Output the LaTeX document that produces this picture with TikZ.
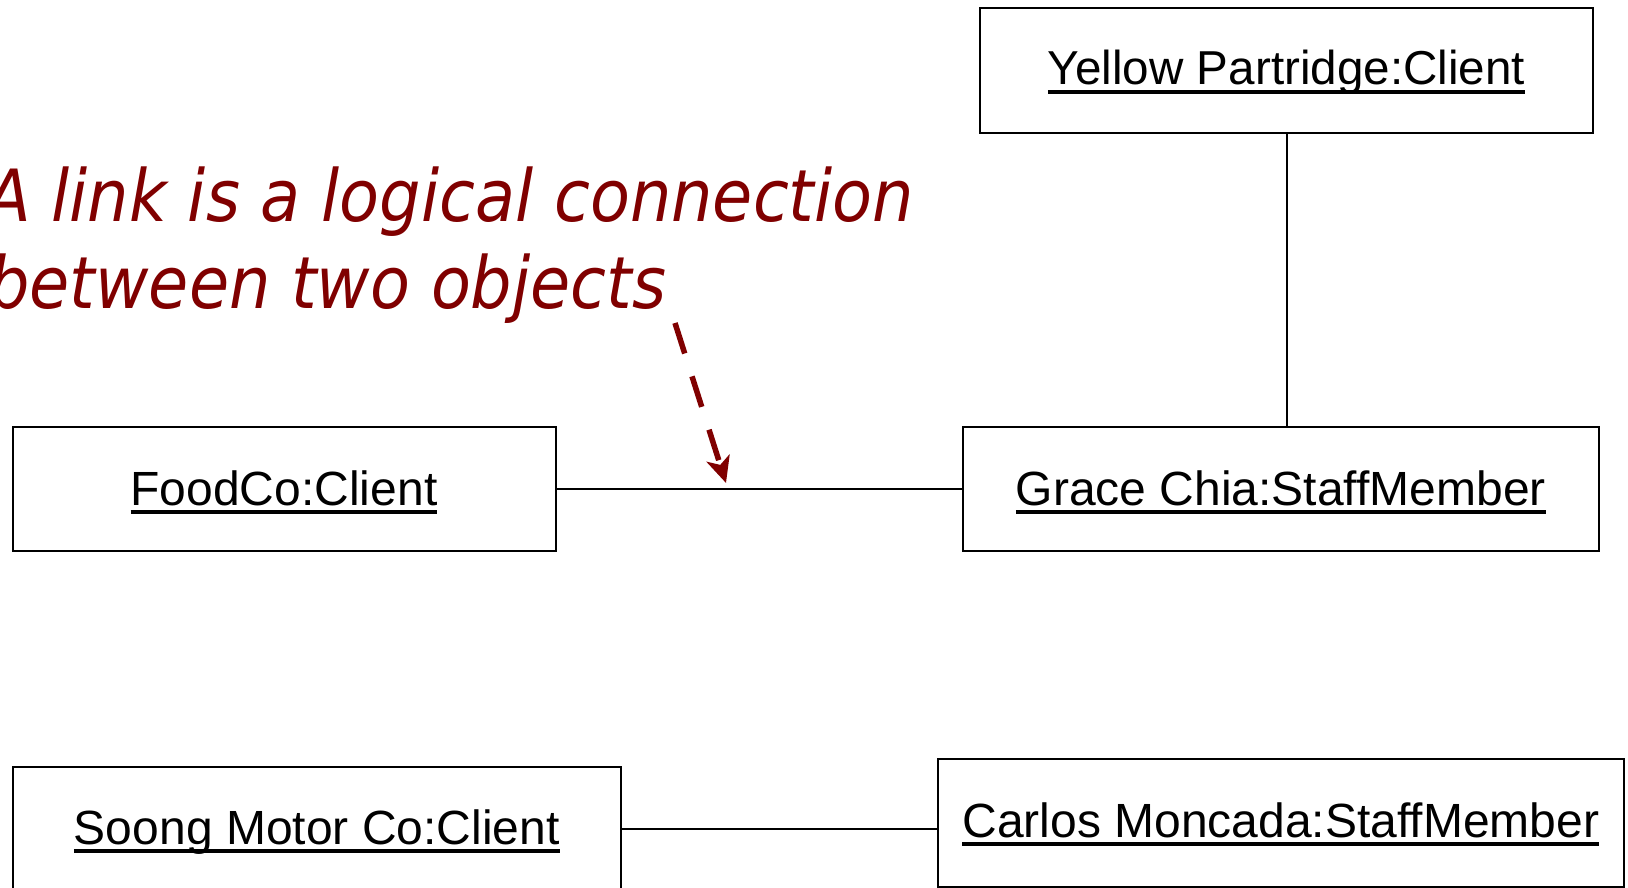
\documentclass[tikz,border=0pt]{standalone}
\usepackage{fontspec}
\setmainfont{Liberation Sans}
\newfontfamily\notefont{DejaVu Sans}
\usetikzlibrary{arrows.meta}
\definecolor{notered}{HTML}{800000}

% underlined object name, UML instance style
\newcommand\objname[1]{\setbox0\hbox{#1}\rlap{\rule[-8.6pt]{\wd0}{3.2pt}}\box0}
\newcommand\pxfont[1]{\fontsize{#1}{#1}\selectfont}

\tikzset{
  objbox/.style={draw=black, line width=2pt, rectangle, inner sep=0pt, outer sep=0pt, anchor=north west},
  objlabel/.style={inner sep=0pt, anchor=base, text=black, font=\pxfont{48}},
  link/.style={draw=black, line width=2pt},
  note/.style={inner sep=0pt, anchor=base west, text=notered, font=\notefont\itshape\pxfont{72}},
  notearrow/.style={draw=notered, line width=5.5pt, dash pattern=on 32pt off 24pt,
    -{Stealth[length=26pt,width=24pt,inset=7pt]}}
}

\begin{document}
\begin{tikzpicture}[x=1pt,y=-1pt]
  \useasboundingbox (0,0) rectangle (1628,888);
  \clip (0,0) rectangle (1628,888);

  % object boxes
  \node[objbox, minimum width=613pt, minimum height=125pt] (yp) at (980,8) {};
  \node[objbox, minimum width=636.5pt, minimum height=124pt] (grace) at (962.5,427) {};
  \node[objbox, minimum width=543pt, minimum height=124pt] (food) at (12.5,427) {};
  \node[objbox, minimum width=608.5pt, minimum height=124pt] (soong) at (12.5,767) {};
  \node[objbox, minimum width=686.4pt, minimum height=128pt] (carlos) at (937.6,759) {};

  % object names
  \node[objlabel, font=\pxfont{47.6}] (yplbl) at (yp.center |- 0,85) {\objname{Yellow Partridge:Client}};
  \node[objlabel] (gracelbl) at (grace.center |- 0,505) {\objname{Grace Chia:StaffMember}};
  \node[objlabel] (foodlbl) at (food.center |- 0,505) {\objname{FoodCo:Client}};
  \node[objlabel] (soonglbl) at (soong.center |- 0,844) {\objname{Soong Motor Co:Client}};
  \node[objlabel] (carloslbl) at (carlos.center |- 0,837) {\objname{Carlos Moncada:StaffMember}};

  % links
  \draw[link] (food.east) -- (grace.west);
  \draw[link] (yp.south) -- (yp.south |- grace.north);
  \draw[link] (soong.east) -- (soong.east -| carlos.west);

  % annotation
  \node[note] (note1) at (-14,221) {\scalebox{0.907}[1]{A link is a logical connection}};
  \node[note] (note2) at (-12,308) {\scalebox{0.907}[1]{between two objects}};
  \coordinate (arrowfrom) at (675,323);
  \coordinate (arrowto) at (726,483);
  \draw[notearrow] (arrowfrom) -- (arrowto);
\end{tikzpicture}
\end{document}
